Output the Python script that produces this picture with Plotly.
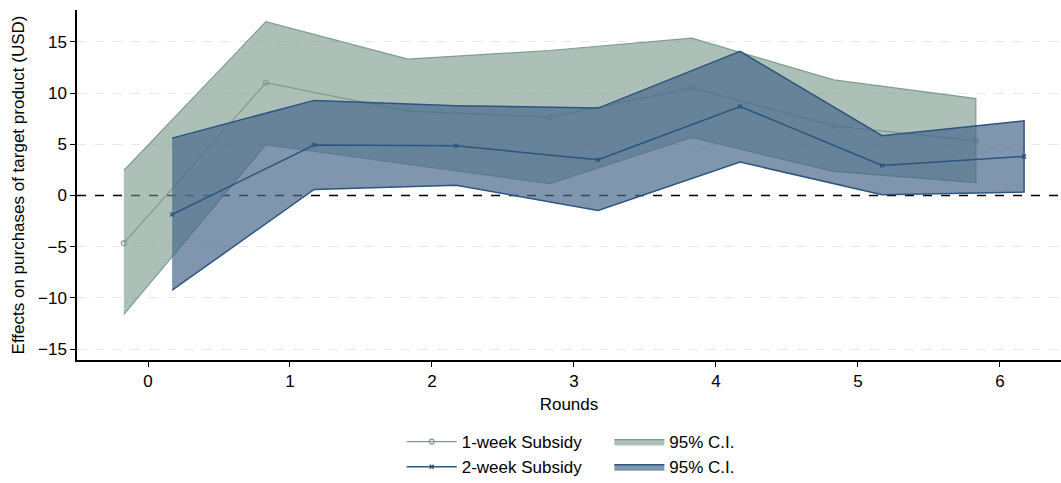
import plotly.graph_objects as go

# Event-study estimates by round, with 95% confidence bounds
rounds = [0, 1, 2, 3, 4, 5, 6]

week1_est = [-4.65, 11.0, 8.24, 7.65, 10.49, 6.8, 5.34]
week1_hi = [2.44, 16.96, 13.3, 14.15, 15.35, 11.28, 9.45]
week1_lo = [-11.6, 4.95, 3.07, 1.15, 5.66, 2.35, 1.27]

week2_est = [-1.85, 4.92, 4.85, 3.49, 8.69, 2.93, 3.81]
week2_hi = [5.6, 9.28, 8.76, 8.53, 14.06, 5.83, 7.29]
week2_lo = [-9.24, 0.59, 1.01, -1.46, 3.26, 0.07, 0.33]

y_ticks = [-15, -10, -5, 0, 5, 10, 15]
x_range = [-0.5, 6.43]
y_range = [-16.05, 18.1]

offset = 0.17
x1 = [r - offset for r in rounds]
x2 = [r + offset for r in rounds]

green_line = "rgb(125,156,143)"
green_fill = "rgba(118,150,135,0.6)"
blue_line = "rgb(44,85,128)"
blue_fill = "rgba(72,105,139,0.7)"

font = "Liberation Sans, Arial, sans-serif"
fs = 17

fig = go.Figure()

# Reference line at zero (drawn first so the bands sit over it)
fig.add_trace(go.Scatter(
    x=x_range, y=[0, 0], mode="lines",
    line=dict(color="black", width=1.6, dash="dash"),
    showlegend=False, hoverinfo="skip",
))
# 1-week confidence band
fig.add_trace(go.Scatter(
    x=x1 + x1[::-1], y=week1_hi + week1_lo[::-1],
    fill="toself", fillcolor=green_fill, mode="lines",
    line=dict(color=green_line, width=1.2),
    name="95% C.I.", legend="legend2", hoverinfo="skip",
))
# 1-week point estimates
fig.add_trace(go.Scatter(
    x=x1, y=week1_est, mode="lines+markers",
    line=dict(color=green_line, width=1.2),
    marker=dict(symbol="circle-open", size=5, color=green_line, line=dict(width=1.2)),
    name="1-week Subsidy", legend="legend",
))
# 2-week confidence band
fig.add_trace(go.Scatter(
    x=x2 + x2[::-1], y=week2_hi + week2_lo[::-1],
    fill="toself", fillcolor=blue_fill, mode="lines",
    line=dict(color=blue_line, width=1.5),
    name="95% C.I.", legend="legend2", hoverinfo="skip",
))
# 2-week point estimates
fig.add_trace(go.Scatter(
    x=x2, y=week2_est, mode="lines+markers",
    line=dict(color=blue_line, width=1.5),
    marker=dict(symbol="x-thin", size=4, color=blue_line, line=dict(width=1.5, color=blue_line)),
    name="2-week Subsidy", legend="legend",
))

legend_common = dict(
    yref="container", y=0.122, xanchor="left", yanchor="top",
    font=dict(size=fs), tracegroupgap=0, itemwidth=50,
    bgcolor="rgba(0,0,0,0)",
)

fig.update_layout(
    width=1061, height=483,
    margin=dict(l=77, r=0, t=10, b=123),
    paper_bgcolor="white", plot_bgcolor="white",
    font=dict(family=font, size=fs, color="black"),
    showlegend=True,
    legend=dict(x=0.330, **legend_common),
    legend2=dict(x=0.541, **legend_common),
    xaxis=dict(
        range=x_range, tickvals=rounds, ticktext=[str(r) for r in rounds],
        showgrid=False, zeroline=False,
        showline=True, linecolor="black", linewidth=1.5,
        ticks="outside", ticklen=5, tickcolor="black",
        tickfont=dict(size=fs),
        title=dict(text="Rounds", font=dict(size=fs), standoff=8),
    ),
    yaxis=dict(
        range=y_range, tickvals=y_ticks,
        showgrid=True, gridcolor="#e6e6e6", griddash="dash", gridwidth=1.2,
        zeroline=False,
        showline=True, linecolor="black", linewidth=1.5,
        ticks="outside", ticklen=5, tickcolor="black",
        tickfont=dict(size=fs),
        title=dict(text="Effects on purchases of target product (USD)", font=dict(size=fs), standoff=9),
    ),
)

fig.write_html("out.html")
